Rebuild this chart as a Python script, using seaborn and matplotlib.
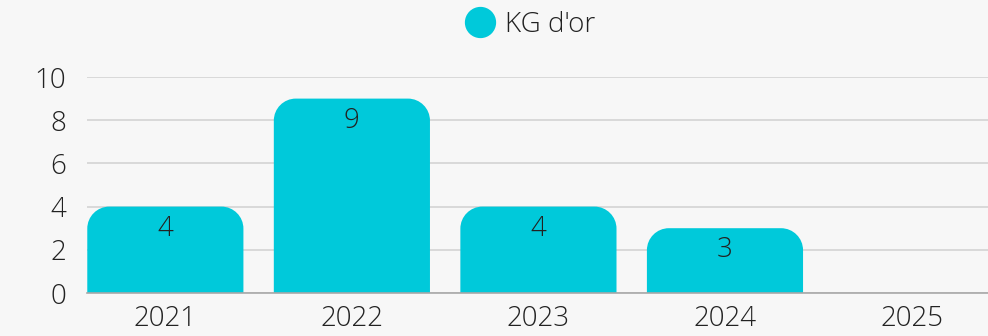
import numpy as np
import pandas as pd
import seaborn as sns
import matplotlib.pyplot as plt
from matplotlib.path import Path
from matplotlib.patches import PathPatch
from matplotlib.lines import Line2D

years = ["2021", "2022", "2023", "2024", "2025"]
kg_or = [4, 9, 4, 3, 0]
series_name = "KG d'or"
y_ticks = [0, 2, 4, 6, 8, 10]

BAR = "#00C9DA"
BG = "#F7F7F7"
TXT = "#222222"

sns.set_theme(style="white")
plt.rcParams["font.family"] = ["Open Sans", "DejaVu Sans"]
plt.rcParams["font.weight"] = "light"

df = pd.DataFrame({"year": years, "value": kg_or})

fig = plt.figure(figsize=(9.88, 3.36), dpi=100, facecolor=BG)
ax = fig.add_axes([87 / 988, 43 / 336, 901 / 988, 216 / 336])
ax.set_facecolor(BG)

sns.barplot(data=df, x="year", y="value", color=BAR, width=0.837,
            saturation=1, ax=ax, zorder=3)

ax.set_xlim(-0.42, 4.41)
ax.set_ylim(0, 10)
ax.set_yticks(y_ticks)
ax.yaxis.grid(True, color="#D0D0D0", linewidth=1.1, zorder=0)
ax.set_axisbelow(True)

# pixel scale for rounded corners
px_per_x = 901 / (4.41 + 0.42)
px_per_y = 216 / 10
r_px = 22


def rounded_top(x0, w, h, r):
    rx = min(r / px_per_x, w / 2)
    ry = min(r / px_per_y, h)
    k = 0.5523
    x1 = x0 + w
    verts = [
        (x0, 0), (x0, h - ry),
        (x0, h - ry + k * ry), (x0 + rx - k * rx, h), (x0 + rx, h),
        (x1 - rx, h),
        (x1 - rx + k * rx, h), (x1, h - ry + k * ry), (x1, h - ry),
        (x1, 0), (x0, 0),
    ]
    codes = [Path.MOVETO, Path.LINETO,
             Path.CURVE4, Path.CURVE4, Path.CURVE4,
             Path.LINETO,
             Path.CURVE4, Path.CURVE4, Path.CURVE4,
             Path.LINETO, Path.CLOSEPOLY]
    return Path(verts, codes)


for p in list(ax.patches):
    h = p.get_height()
    x0 = p.get_x()
    w = p.get_width()
    p.set_visible(False)
    if h > 0:
        ax.add_patch(PathPatch(rounded_top(x0, w, h, r_px), facecolor=BAR,
                               edgecolor="none", zorder=3))
        ax.annotate(f"{h:g}", (x0 + w / 2, h), xytext=(0, -16),
                    textcoords="offset points", ha="center", va="center",
                    fontsize=20, color=TXT, fontweight="light", zorder=4)

for s in ["top", "right", "left"]:
    ax.spines[s].set_visible(False)
ax.spines["bottom"].set_color("#A8A8A8")
ax.spines["bottom"].set_linewidth(1.2)
ax.spines["bottom"].set_zorder(5)

ax.tick_params(axis="both", length=0, labelsize=20, colors=TXT)
ax.tick_params(axis="y", pad=15)
ax.tick_params(axis="x", pad=9)
ax.set_xlabel("")
ax.set_ylabel("")

handle = Line2D([], [], marker="o", linestyle="none", markersize=21.5,
                markerfacecolor=BAR, markeredgecolor=BAR)
fig.legend([handle], [series_name], loc="center", bbox_to_anchor=(530 / 988, 1 - 25 / 336),
           frameon=False, fontsize=20, handlelength=1.1, handletextpad=0.35,
           borderaxespad=0, labelcolor=TXT)

fig.savefig("out.png", dpi=100, facecolor=BG)
